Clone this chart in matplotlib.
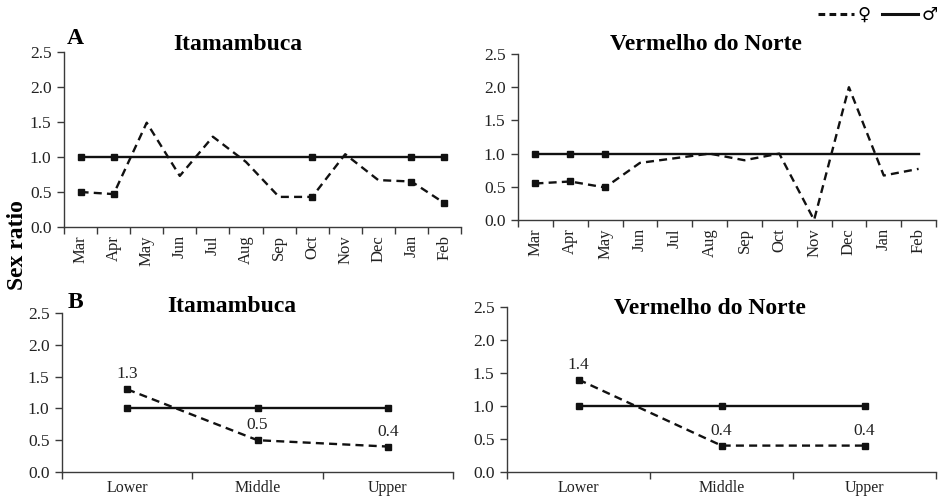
import numpy as np
import matplotlib
matplotlib.use('Agg')
import matplotlib.pyplot as plt
from matplotlib.lines import Line2D

plt.rcParams['font.family'] = ['Liberation Serif', 'DejaVu Sans']

months = ['Mar', 'Apr', 'May', 'Jun', 'Jul', 'Aug', 'Sep', 'Oct', 'Nov', 'Dec', 'Jan', 'Feb']
zones = ['Lower', 'Middle', 'Upper']

# A - monthly sex ratio
ita_fem_month = [0.50, 0.47, 1.49, 0.73, 1.29, 0.93, 0.43, 0.43, 1.04, 0.67, 0.65, 0.34]
ita_male_month = [1.0] * 12
ita_marks = [0, 1, 7, 10, 11]
ver_fem_month = [0.55, 0.58, 0.49, 0.86, 0.93, 1.0, 0.90, 1.0, 0.0, 2.0, 0.67, 0.77]
ver_male_month = [1.0] * 12
ver_marks = [0, 1, 2]

# B - sex ratio by river zone
ita_fem_zone = [1.3, 0.5, 0.4]
ver_fem_zone = [1.4, 0.4, 0.4]
male_zone = [1.0, 1.0, 1.0]

W, H = 939, 501
fig = plt.figure(figsize=(W / 100, H / 100), dpi=100)

def px_axes(l, t, r, b):
    return fig.add_axes([l / W, 1 - b / H, (r - l) / W, (b - t) / H])

LW = 1.7
DASH = (3.4, 2.2)
spine_col = '#3a3a3a'

def style(ax, ncat, labels, rot, fs):
    ax.set_ylim(0, 2.5)
    ax.set_yticks(np.arange(0, 2.51, 0.5))
    ax.set_yticklabels(['%.1f' % v for v in np.arange(0, 2.51, 0.5)], fontsize=12.5, color='#222222')
    ax.set_xlim(-0.5, ncat - 0.5)
    ax.set_xticks(np.arange(-0.5, ncat, 1.0))
    ax.set_xticklabels([])
    ax.set_xticks(np.arange(ncat), minor=True)
    ax.set_xticklabels(labels, minor=True, rotation=rot, fontsize=fs, color='#222222')
    ax.tick_params(axis='x', which='minor', length=0, pad=6)
    ax.tick_params(axis='x', which='major', length=5, width=1, direction='out', color=spine_col)
    ax.tick_params(axis='y', length=5, width=1, direction='out', color=spine_col, pad=4)
    for s in ['top', 'right']:
        ax.spines[s].set_visible(False)
    for s in ['left', 'bottom']:
        ax.spines[s].set_color(spine_col)
        ax.spines[s].set_linewidth(1.0)

def draw(ax, fem, male, fmarks, mmarks):
    x = np.arange(len(fem))
    ax.plot(x, male, color='#111111', lw=LW, marker='s', ms=5, markevery=mmarks, clip_on=False, zorder=3)
    ax.plot(x, fem, color='#111111', lw=LW, dashes=DASH, marker='s', ms=5, markevery=fmarks, clip_on=False, zorder=3)

def label_points(ax, vals):
    for i, v in enumerate(vals):
        ax.annotate('%.1f' % v, (i, v), xytext=(0, 5), textcoords='offset points',
                    ha='center', va='bottom', fontsize=12.5, color='#222222')

# panel A
ax1 = px_axes(64, 52, 461, 227)
draw(ax1, ita_fem_month, ita_male_month, ita_marks, ita_marks)
style(ax1, 12, months, 90, 12)

ax2 = px_axes(518, 54, 936, 220)
draw(ax2, ver_fem_month, ver_male_month, ver_marks, ver_marks)
style(ax2, 12, months, 90, 12)

# panel B
ax3 = px_axes(62, 313, 453, 472)
draw(ax3, ita_fem_zone, male_zone, None, None)
style(ax3, 3, zones, 0, 11.5)
label_points(ax3, ita_fem_zone)

ax4 = px_axes(507, 307, 936, 472)
draw(ax4, ver_fem_zone, male_zone, None, None)
style(ax4, 3, zones, 0, 11.5)
label_points(ax4, ver_fem_zone)

# titles and labels
title_kw = dict(fontsize=17, fontweight='bold', ha='center', va='center')
fig.text(238 / W, 1 - 45 / H, 'Itamambuca', **title_kw)
fig.text(706 / W, 1 - 45 / H, 'Vermelho do Norte', **title_kw)
fig.text(232 / W, 1 - 307 / H, 'Itamambuca', **title_kw)
fig.text(710 / W, 1 - 308 / H, 'Vermelho do Norte', **title_kw)
fig.text(75 / W, 1 - 38 / H, 'A', fontsize=17, fontweight='bold', ha='center', va='center')
fig.text(75 / W, 1 - 302 / H, 'B', fontsize=17, fontweight='bold', ha='center', va='center')
fig.text(18 / W, 1 - 245 / H, 'Sex ratio', fontsize=17, fontweight='bold', rotation=90,
         ha='center', va='center')

handles = [Line2D([], [], color='#111111', lw=2.2, dashes=(2.2, 1.4)),
           Line2D([], [], color='#111111', lw=2.2)]
fig.legend(handles, ['\u2640', '\u2642'], loc='center left', bbox_to_anchor=(818 / W, 1 - 15 / H),
           ncol=2, frameon=False, handlelength=2.0, handletextpad=0.2, columnspacing=0.6,
           borderpad=0, borderaxespad=0, prop={'family': ['DejaVu Sans'], 'size': 13})

fig.savefig('out.png', dpi=100)
